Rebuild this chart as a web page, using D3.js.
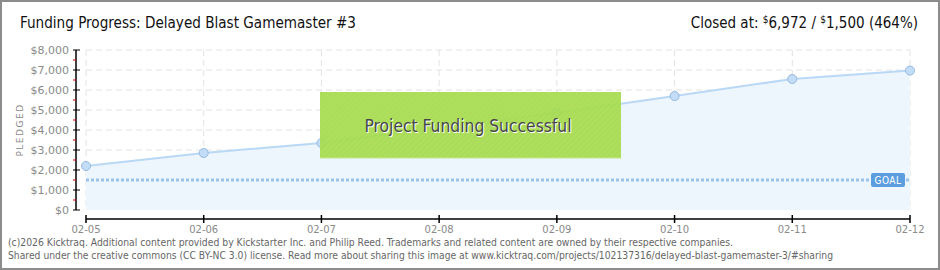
<!DOCTYPE html>
<html>
<head>
<meta charset="utf-8">
<script src="https://cdn.jsdelivr.net/npm/d3@7"></script>
<style>
  body { margin: 0; background: #fff; }
  svg { display: block; }
</style>
</head>
<body>
<svg id="chart" width="940" height="270" viewBox="0 0 940 270"></svg>
<script>
// data
const dates = ["02-05", "02-06", "02-07", "02-08", "02-09", "02-10", "02-11", "02-12"]
const pledged = [2200, 2850, 3350, 4100, 4850, 5700, 6550, 6972]
const goal = 1500
const yTicks = [0, 1000, 2000, 3000, 4000, 5000, 6000, 7000, 8000]
const yMinor = [500, 1500, 2500, 3500, 4500, 5500, 6500, 7500]

const svg = d3.select("#chart")
const width = 940, height = 270

// frame
svg.append("rect")
    .attr("x", 1).attr("y", 1)
    .attr("width", width - 2).attr("height", height - 2)
    .attr("fill", "#fff")
    .attr("stroke", "#8c8c8c")
    .attr("stroke-width", 2)

const x = d3.scalePoint().domain(dates).range([86, 910])
const y = d3.scaleLinear().domain([0, 8000]).range([210, 50])

// grid
const grid = svg.append("g")
grid.selectAll(".hg")
    .data(yTicks.slice(1))
    .enter().append("line")
    .attr("x1", 86).attr("x2", 910)
    .attr("y1", d => y(d)).attr("y2", d => y(d))
    .attr("stroke", "#e2e2e2").attr("stroke-dasharray", "6,4")
grid.selectAll(".vg")
    .data(dates)
    .enter().append("line")
    .attr("x1", d => x(d)).attr("x2", d => x(d))
    .attr("y1", y(8000)).attr("y2", y(0))
    .attr("stroke", "#e2e2e2").attr("stroke-dasharray", "6,4")

// area + line
const area = d3.area()
    .x((d, i) => x(dates[i]))
    .y0(y(0))
    .y1(d => y(d))
svg.append("path")
    .datum(pledged)
    .attr("d", area)
    .attr("fill", "#edf5fd")

const line = d3.line()
    .x((d, i) => x(dates[i]))
    .y(d => y(d))
svg.append("path")
    .datum(pledged)
    .attr("d", line)
    .attr("fill", "none")
    .attr("stroke", "#b9d8f6")
    .attr("stroke-width", 2)

// goal line
svg.append("line")
    .attr("x1", x(dates[0])).attr("x2", x(dates[dates.length - 1]))
    .attr("y1", y(goal)).attr("y2", y(goal))
    .attr("stroke", "#9cc3ea")
    .attr("stroke-width", 3)
    .attr("stroke-dasharray", "3,2")

svg.selectAll(".pt")
    .data(pledged)
    .enter().append("circle")
    .attr("cx", (d, i) => x(dates[i]))
    .attr("cy", d => y(d))
    .attr("r", 4.5)
    .attr("fill", "#c3ddf8")
    .attr("stroke", "#96b9df")
    .attr("stroke-width", 1)

// goal label
const gl = svg.append("g").attr("transform", `translate(871, ${y(goal) - 7})`)
gl.append("rect")
    .attr("width", 34).attr("height", 14)
    .attr("rx", 2)
    .attr("fill", "#5b9ee0")
gl.append("text")
    .attr("x", 17).attr("y", 11)
    .attr("text-anchor", "middle")
    .attr("fill", "#fff")
    .attr("font-family", "DejaVu Sans")
    .attr("font-stretch", "condensed")
    .attr("font-size", 10)
    .attr("letter-spacing", 0.5)
    .text("GOAL")

// y axis
const yAxis = svg.append("g")
yAxis.append("line")
    .attr("x1", 76).attr("x2", 76)
    .attr("y1", y(8000)).attr("y2", y(0))
    .attr("stroke", "#000").attr("stroke-width", 1.5)
yAxis.selectAll(".mt")
    .data(yMinor)
    .enter().append("line")
    .attr("x1", 73).attr("x2", 76)
    .attr("y1", d => y(d)).attr("y2", d => y(d))
    .attr("stroke", "#e00000")
yAxis.selectAll(".tk")
    .data(yTicks)
    .enter().append("line")
    .attr("x1", 73).attr("x2", 80)
    .attr("y1", d => y(d)).attr("y2", d => y(d))
    .attr("stroke", "#000")
yAxis.selectAll(".yl")
    .data(yTicks)
    .enter().append("text")
    .attr("x", 69)
    .attr("y", d => y(d) + 4)
    .attr("text-anchor", "end")
    .attr("fill", "#8a8a8a")
    .attr("font-family", "DejaVu Sans")
    .attr("font-size", 11)
    .text(d => "$" + d3.format(",")(d))

svg.append("text")
    .attr("transform", "translate(23, 130) rotate(-90)")
    .attr("text-anchor", "middle")
    .attr("fill", "#8a8a8a")
    .attr("font-family", "DejaVu Sans")
    .attr("font-size", 9)
    .attr("letter-spacing", 1.5)
    .text("PLEDGED")

// x axis
const xAxis = svg.append("g")
xAxis.append("line")
    .attr("x1", 86).attr("x2", 910)
    .attr("y1", 219).attr("y2", 219)
    .attr("stroke", "#000").attr("stroke-width", 1.5)
xAxis.selectAll(".xt")
    .data(dates)
    .enter().append("line")
    .attr("x1", d => x(d)).attr("x2", d => x(d))
    .attr("y1", 215).attr("y2", 223)
    .attr("stroke", "#000").attr("stroke-width", 1.5)
xAxis.selectAll(".xl")
    .data(dates)
    .enter().append("text")
    .attr("x", d => x(d))
    .attr("y", 233)
    .attr("text-anchor", "middle")
    .attr("fill", "#8a8a8a")
    .attr("font-family", "DejaVu Sans")
    .attr("font-size", 10)
    .text(d => d)

// success banner
const defs = svg.append("defs")
const pat = defs.append("pattern")
    .attr("id", "hatch")
    .attr("width", 4).attr("height", 4)
    .attr("patternUnits", "userSpaceOnUse")
    .attr("patternTransform", "rotate(-45)")
pat.append("rect").attr("width", 4).attr("height", 4).attr("fill", "#a8dd50")
pat.append("line")
    .attr("x1", 0).attr("x2", 4).attr("y1", 0).attr("y2", 0)
    .attr("stroke", "#9fd449").attr("stroke-width", 1)

svg.append("rect")
    .attr("x", 320).attr("y", 92)
    .attr("width", 301).attr("height", 66)
    .attr("fill", "url(#hatch)")
    .attr("opacity", 0.93)
svg.append("line")
    .attr("x1", 320).attr("x2", 621)
    .attr("y1", 158).attr("y2", 158)
    .attr("stroke", "#c4e88a")
svg.append("text")
    .attr("x", 469).attr("y", 133)
    .attr("text-anchor", "middle")
    .attr("fill", "#fff")
    .attr("font-family", "DejaVu Sans")
    .attr("font-stretch", "condensed")
    .attr("font-size", 18)
    .attr("textLength", 207)
    .attr("lengthAdjust", "spacingAndGlyphs")
    .text("Project Funding Successful")
svg.append("text")
    .attr("x", 468).attr("y", 132)
    .attr("text-anchor", "middle")
    .attr("fill", "#474747")
    .attr("font-family", "DejaVu Sans")
    .attr("font-stretch", "condensed")
    .attr("font-size", 18)
    .attr("textLength", 207)
    .attr("lengthAdjust", "spacingAndGlyphs")
    .text("Project Funding Successful")

// titles
svg.append("text")
    .attr("x", 20).attr("y", 28)
    .attr("fill", "#111")
    .attr("font-family", "DejaVu Sans")
    .attr("font-stretch", "condensed")
    .attr("font-size", 16)
    .attr("textLength", 336)
    .attr("lengthAdjust", "spacingAndGlyphs")
    .text("Funding Progress: Delayed Blast Gamemaster #3")

const closed = svg.append("text")
    .attr("x", 918).attr("y", 28)
    .attr("text-anchor", "end")
    .attr("fill", "#111")
    .attr("font-family", "DejaVu Sans")
    .attr("font-stretch", "condensed")
    .attr("font-size", 15)
closed.append("tspan").text("Closed at:  ")
closed.append("tspan").attr("font-size", 10).attr("dy", -5).text("$")
closed.append("tspan").attr("dy", 5).text("6,972 /  ")
closed.append("tspan").attr("font-size", 10).attr("dy", -5).text("$")
closed.append("tspan").attr("dy", 5).text("1,500 (464%)")

// footer
const foot = ["(c)2026 Kicktraq. Additional content provided by Kickstarter Inc. and Philip Reed. Trademarks and related content are owned by their respective companies.",
    "Shared under the creative commons (CC BY-NC 3.0) license. Read more about sharing this image at www.kicktraq.com/projects/102137316/delayed-blast-gamemaster-3/#sharing"]
const footLen = [725, 825]
svg.selectAll(".ft")
    .data(foot)
    .enter().append("text")
    .attr("x", 8)
    .attr("y", (d, i) => 246 + i * 13)
    .attr("fill", "#666")
    .attr("font-family", "DejaVu Sans")
    .attr("font-size", 10)
    .attr("textLength", (d, i) => footLen[i])
    .attr("lengthAdjust", "spacingAndGlyphs")
    .text(d => d)
</script>
</body>
</html>
